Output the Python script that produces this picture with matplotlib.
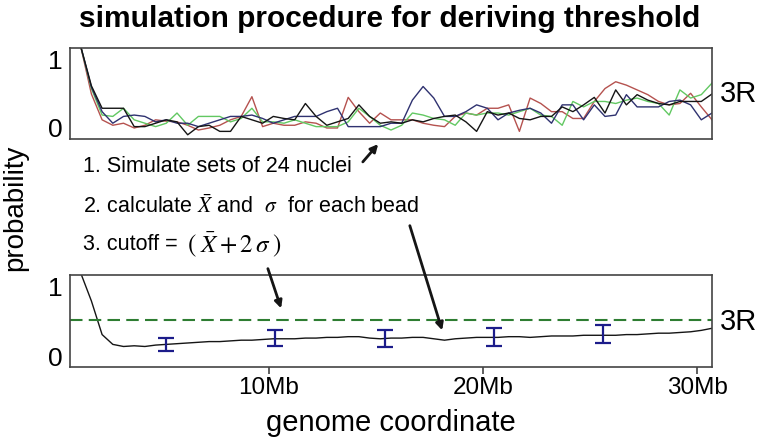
import numpy as np
import matplotlib
matplotlib.use('Agg')
import matplotlib.pyplot as plt

plt.rcParams['font.family'] = ['Liberation Sans', 'DejaVu Sans']
plt.rcParams['mathtext.fontset'] = 'stix'

# positions along the chromosome arm (Mb), one value every 0.5 Mb
pos = 1.2 + 0.5 * np.arange(60)

# four simulated sets of 24 nuclei (top panel)
sim_black = [1.2, 0.62, 0.29, 0.29, 0.29, 0.02, 0.02, 0.07, 0.12, 0.09,
             -0.1, 0.02, 0.04, -0.05, -0.05, 0.17, 0.12, 0.07, 0.17, 0.14,
             0.12, 0.36, 0.17, 0.04, 0.09, 0.14, 0.34, 0.17, 0.07, 0.09,
             0.07, 0.12, 0.09, 0.14, 0.17, 0.19, 0.09, -0.05, 0.24, 0.19,
             0.22, 0.14, 0.12, 0.17, 0.17, 0.31, 0.24, 0.34, 0.45, 0.22,
             0.56, 0.34, 0.49, 0.41, 0.36, 0.34, 0.39, 0.39, 0.39, 0.5]
sim_navy = [1.2, 0.6, 0.24, 0.07, 0.17, 0.19, 0.17, 0.09, 0.12, 0.07,
            0.07, 0.02, 0.07, 0.12, 0.17, 0.17, 0.19, 0.14, 0.07, 0.12,
            0.17, 0.17, 0.17, 0.24, 0.29, 0.02, 0.02, 0.02, 0.02, 0.07,
            0.07, 0.41, 0.61, 0.44, 0.17, 0.17, 0.24, 0.34, 0.29, 0.12,
            0.22, 0.26, 0.29, 0.22, 0.07, 0.34, 0.34, 0.12, 0.34, 0.17,
            0.19, 0.49, 0.31, 0.31, 0.31, 0.39, 0.41, 0.34, 0.12, 0.22]
sim_red = [1.2, 0.5, 0.12, 0.04, 0.07, 0.0, 0.04, 0.12, 0.1, 0.09,
           0.04, -0.03, 0.0, 0.04, 0.12, 0.17, 0.46, 0.02, 0.07, 0.04,
           0.04, 0.09, 0.07, 0.0, 0.0, 0.45, 0.24, 0.07, 0.22, 0.12,
           0.12, 0.12, 0.07, 0.04, 0.02, 0.17, 0.22, 0.19, 0.29, 0.29,
           0.34, -0.05, 0.44, 0.36, 0.24, 0.24, 0.14, 0.14, 0.39, 0.58,
           0.68, 0.63, 0.56, 0.49, 0.39, 0.34, 0.36, 0.51, 0.31, 0.12]
sim_green = [1.2, 0.58, 0.19, 0.17, 0.29, 0.12, 0.07, 0.02, 0.07, 0.22,
             0.04, 0.17, 0.17, 0.17, 0.09, 0.14, 0.29, 0.09, 0.09, 0.07,
             0.12, 0.07, 0.02, 0.02, 0.02, 0.09, 0.29, 0.17, 0.04, -0.03,
             0.04, 0.22, 0.19, 0.14, 0.12, 0.04, 0.22, 0.19, 0.22, 0.22,
             0.19, 0.24, 0.29, 0.19, 0.17, 0.04, 0.39, 0.31, 0.39, 0.39,
             0.36, 0.41, 0.44, 0.39, 0.36, 0.19, 0.56, 0.44, 0.49, 0.66]

# mean over many simulations (bottom panel)
mean_prob = [1.2, 0.8, 0.32, 0.18, 0.15, 0.16, 0.15, 0.17, 0.18, 0.19,
             0.2, 0.21, 0.22, 0.22, 0.23, 0.24, 0.24, 0.25, 0.26, 0.26,
             0.26, 0.27, 0.27, 0.28, 0.28, 0.29, 0.29, 0.27, 0.26, 0.27,
             0.27, 0.28, 0.28, 0.26, 0.24, 0.26, 0.27, 0.28, 0.28, 0.28,
             0.29, 0.29, 0.28, 0.29, 0.3, 0.3, 0.3, 0.31, 0.31, 0.31,
             0.31, 0.32, 0.32, 0.33, 0.34, 0.34, 0.35, 0.36, 0.38, 0.41]

# example beads with spread (bottom panel error bars)
bead_pos = [5.2, 10.3, 15.4, 20.5, 25.6]
bead_low = [0.09, 0.16, 0.14, 0.16, 0.20]
bead_high = [0.27, 0.39, 0.38, 0.41, 0.46]

cutoff = 0.53

xticks = [10, 20, 30]
xticklabels = ['10Mb', '20Mb', '30Mb']

W, H = 764, 447
fig = plt.figure(figsize=(W / 100, H / 100), dpi=100)


def px_axes(x0, y0, x1, y1):
    return fig.add_axes([x0 / W, 1 - y1 / H, (x1 - x0) / W, (y1 - y0) / H])


ax1 = px_axes(70, 48, 712, 139)
ax2 = px_axes(70, 275, 712, 367)

ax1.plot(pos, sim_red, color='#b5524f', lw=1)
ax1.plot(pos, sim_green, color='#62c862', lw=1)
ax1.plot(pos, sim_navy, color='#2f3270', lw=1)
ax1.plot(pos, sim_black, color='#151515', lw=1)
ax1.set_ylim(-0.162, 1.176)

ax2.plot(pos, mean_prob, color='#151515', lw=1)
centre = [(lo + hi) / 2 for lo, hi in zip(bead_low, bead_high)]
half = [(hi - lo) / 2 for lo, hi in zip(bead_low, bead_high)]
ax2.errorbar(bead_pos, centre, yerr=half, fmt='none', ecolor='#1c1c8a',
             elinewidth=1.6, capsize=5.5, capthick=1.6)
ax2.axhline(cutoff, color='#2e7d32', lw=1.5, ls=(0, (6, 3)))
ax2.set_ylim(-0.143, 1.171)

for ax in (ax1, ax2):
    ax.set_xlim(0.7, 30.7)
    ax.set_yticks([0, 1])
    ax.set_yticklabels(['0', '1'])
    ax.tick_params(axis='y', length=0, pad=5, labelsize=19)
    for s in ax.spines.values():
        s.set_color('#444444')
        s.set_linewidth(1.2)

ax1.set_xticks([])
ax2.set_xticks(xticks)
ax2.set_xticklabels(xticklabels)
ax2.tick_params(axis='x', length=5, width=1.2, color='#444444', pad=2,
                labelsize=17.5)

fig.text(390 / W, 1 - 19 / H, 'simulation procedure for deriving threshold',
         ha='center', va='center', fontsize=21.5, fontweight='bold')
fig.text(15 / W, 1 - 208 / H, 'probability', rotation=90,
         ha='center', va='center', fontsize=20)
fig.text(391 / W, 1 - 423 / H, 'genome coordinate',
         ha='center', va='center', fontsize=21)
fig.text(720 / W, 1 - 94 / H, '3R', ha='left', va='center', fontsize=21)
fig.text(720 / W, 1 - 322 / H, '3R', ha='left', va='center', fontsize=21)

fig.text(83 / W, 1 - 166 / H, '1. Simulate sets of 24 nuclei',
         ha='left', va='center', fontsize=15.5)
fig.text(83 / W, 1 - 207 / H,
         r'2. calculate $\bar{X}$ and  $\sigma$  for each bead',
         ha='left', va='center', fontsize=15.5)
fig.text(83 / W, 1 - 245 / H, '3. cutoff =',
         ha='left', va='center', fontsize=15.5)
fig.text(187 / W, 1 - 245 / H, r'$\left(\;\bar{X} + 2\,\sigma\;\right)$',
         ha='left', va='center', fontsize=18)


def arrow(x0, y0, x1, y1):
    fig.add_artist(matplotlib.patches.FancyArrowPatch(
        (x0 / W, 1 - y0 / H), (x1 / W, 1 - y1 / H),
        transform=fig.transFigure, arrowstyle='-|>', mutation_scale=11,
        lw=2, color='#151515'))


arrow(361, 164, 380, 142)
arrow(409, 223, 443, 333)
arrow(267, 266, 282, 311)

fig.savefig('out.png', dpi=100)
